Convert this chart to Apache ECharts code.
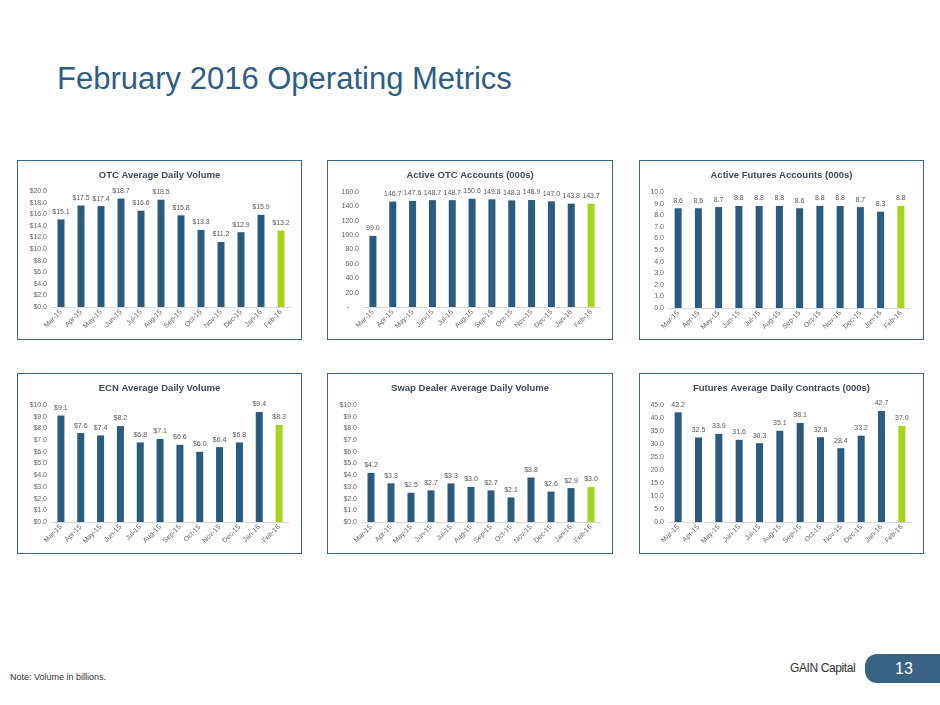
<!DOCTYPE html>
<html>
<head>
<meta charset="utf-8">
<script src="https://cdn.jsdelivr.net/npm/echarts@6/dist/echarts.min.js"></script>
<style>
    body { margin: 0; width: 940px; height: 705px; background: #fff; position: relative; overflow: hidden; font-family: "Liberation Sans", Arial, sans-serif; }
    .page-title { position: absolute; left: 57px; top: 63px; font-size: 31px; line-height: 31px; color: #2e5e85; white-space: nowrap; }
    .panel { position: absolute; border: 1px solid #3d6789; box-sizing: border-box; }
    .panel .chart { position: absolute; left: 0; top: 0; right: 0; bottom: 0; }
    .note { position: absolute; left: 10px; top: 672px; font-size: 9px; color: #333; }
    .brand { position: absolute; left: 790px; top: 661px; font-size: 12px; letter-spacing: -0.4px; color: #333; }
    .page-no { position: absolute; left: 865px; top: 654px; width: 75px; height: 29px; background: #3a6283; border-radius: 12px 0 0 12px; color: #fff; font-size: 16px; line-height: 29px; text-indent: 30px; }
</style>
</head>
<body>
<div class="page-title">February 2016 Operating Metrics</div>

<div class="panel" style="left:17px;top:160px;width:285px;height:180px;"><div class="chart" id="c1"></div></div>
<div class="panel" style="left:327px;top:160px;width:286px;height:180px;"><div class="chart" id="c2"></div></div>
<div class="panel" style="left:639px;top:160px;width:285px;height:180px;"><div class="chart" id="c3"></div></div>
<div class="panel" style="left:17px;top:373px;width:285px;height:181px;"><div class="chart" id="c4"></div></div>
<div class="panel" style="left:327px;top:373px;width:286px;height:181px;"><div class="chart" id="c5"></div></div>
<div class="panel" style="left:639px;top:373px;width:285px;height:181px;"><div class="chart" id="c6"></div></div>

<div class="note">Note: Volume in billions.</div>
<div class="brand">GAIN Capital</div>
<div class="page-no">13</div>

<script>
// months shown on every chart
var months = ['Mar-15','Apr-15','May-15','Jun-15','Jul-15','Aug-15','Sep-15','Oct-15','Nov-15','Dec-15','Jan-16','Feb-16'];

// values
var otcVolume = [15.1, 17.5, 17.4, 18.7, 16.6, 18.5, 15.8, 13.3, 11.2, 12.9, 15.9, 13.2];
var otcAccounts = [99.0, 146.7, 147.6, 148.7, 148.7, 150.6, 149.8, 148.3, 148.9, 147.0, 143.8, 143.7];
var futuresAccounts = [8.6, 8.6, 8.7, 8.8, 8.8, 8.8, 8.6, 8.8, 8.8, 8.7, 8.3, 8.8];
var ecnVolume = [9.1, 7.6, 7.4, 8.2, 6.8, 7.1, 6.6, 6.0, 6.4, 6.8, 9.4, 8.3];
var swapVolume = [4.2, 3.3, 2.5, 2.7, 3.3, 3.0, 2.7, 2.1, 3.8, 2.6, 2.9, 3.0];
var futuresContracts = [42.2, 32.5, 33.9, 31.6, 30.3, 35.1, 38.1, 32.6, 28.4, 33.2, 42.7, 37.0];

var BLUE = '#2a5b80';
var GREEN = '#a5d41c';
var FONT = '"Liberation Sans", Arial, sans-serif';

function barConfig(o){
    var echart = echarts.init(document.getElementById(o.id));
    var pre = o.dollar ? '$' : '';
    // last month highlighted in green
    var data = o.data.map(function(v, i){
        return i == o.data.length - 1 ? {value: v, itemStyle: {color: GREEN}} : v;
    });
    var option = {
        animation: false,
        title: {
            text: o.text,
            left: 'center',
            top: 4,
            textStyle: {fontSize: 9.5, fontWeight: 'bold', color: '#3e4959', fontFamily: FONT}
        },
        grid: o.grid,
        xAxis: {
            type: 'category',
            data: months,
            axisLine: {lineStyle: {color: '#d9d9d9'}},
            axisTick: {length: 3, lineStyle: {color: '#d9d9d9'}},
            axisLabel: {rotate: 45, fontSize: 7, color: '#666', margin: 4, interval: 0, fontFamily: FONT}
        },
        yAxis: {
            type: 'value',
            min: 0,
            max: o.max,
            interval: o.interval,
            axisLine: {show: false},
            axisTick: {show: false},
            splitLine: {show: false},
            axisLabel: {
                fontSize: 7, color: '#666', margin: 4, fontFamily: FONT,
                formatter: function(v){
                    if (v === 0 && o.dash) return '-     ';
                    return pre + v.toFixed(1);
                }
            }
        },
        series: [{
            type: 'bar',
            barWidth: 7,
            itemStyle: {color: BLUE},
            label: {
                show: true,
                position: 'top',
                distance: 4,
                fontSize: 7,
                color: '#595959',
                fontFamily: FONT,
                formatter: function(p){ return pre + p.value.toFixed(1); }
            },
            data: data
        }]
    };
    echart.setOption(option);
}

barConfig({id: 'c1', text: 'OTC Average Daily Volume', data: otcVolume, max: 20, interval: 2, dollar: true,
    grid: {left: 33, right: 10, top: 30, bottom: 32}});
barConfig({id: 'c2', text: 'Active OTC Accounts (000s)', data: otcAccounts, max: 160, interval: 20, dash: true,
    grid: {left: 35, right: 11, top: 31, bottom: 32}});
barConfig({id: 'c3', text: 'Active Futures Accounts (000s)', data: futuresAccounts, max: 10, interval: 1,
    grid: {left: 28, right: 12, top: 31, bottom: 31}});
barConfig({id: 'c4', text: 'ECN Average Daily Volume', data: ecnVolume, max: 10, interval: 1, dollar: true,
    grid: {left: 33, right: 12, top: 31, bottom: 31}});
barConfig({id: 'c5', text: 'Swap Dealer Average Daily Volume', data: swapVolume, max: 10, interval: 1, dollar: true,
    grid: {left: 33, right: 11, top: 31, bottom: 31}});
barConfig({id: 'c6', text: 'Futures Average Daily Contracts (000s)', data: futuresContracts, max: 45, interval: 5,
    grid: {left: 28, right: 11, top: 31, bottom: 31}});
</script>
</body>
</html>
